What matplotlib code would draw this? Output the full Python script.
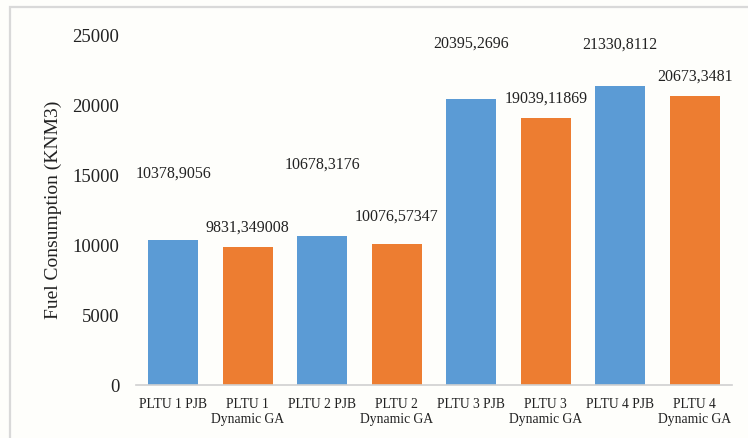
import matplotlib

matplotlib.use("agg")
import matplotlib.pyplot as plt
from matplotlib.patches import Rectangle

categories = [
    "PLTU 1 PJB",
    "PLTU 1\nDynamic GA",
    "PLTU 2 PJB",
    "PLTU 2\nDynamic GA",
    "PLTU 3 PJB",
    "PLTU 3\nDynamic GA",
    "PLTU 4 PJB",
    "PLTU 4\nDynamic GA",
]
values = [10378.9056, 9831.349008, 10678.3176, 10076.57347,
          20395.2696, 19039.11869, 21330.8112, 20673.3481]
value_labels = ["10378,9056", "9831,349008", "10678,3176", "10076,57347",
                "20395,2696", "19039,11869", "21330,8112", "20673,3481"]
yticks = [0, 5000, 10000, 15000, 20000, 25000]

# where the data labels sit above each bar (data units), as in the source
label_gap = [4700, 1380, 5040, 1920, 3960, 1390, 2960, 1330]

BLUE = "#5b9bd5"
ORANGE = "#ed7d31"
colors = [BLUE if i % 2 == 0 else ORANGE for i in range(len(values))]

plt.rcParams["font.family"] = ["Liberation Serif", "DejaVu Serif"]

fig = plt.figure(figsize=(7.48, 4.38), dpi=100, facecolor="#fefefb")
# chart frame, only top/left edges visible in the crop
fig.patches.append(Rectangle((10 / 748, -0.1), 1.2, 1 - 7 / 438 + 0.1,
                             transform=fig.transFigure, fill=False,
                             edgecolor="#d9d9d9", linewidth=1.6))

ax = fig.add_axes([136 / 748, 1 - 385 / 438, 596 / 748, 350 / 438])
ax.set_facecolor("none")

x = range(len(values))
ax.bar(x, values, width=0.67, color=colors)

for i, (v, lab) in enumerate(zip(values, value_labels)):
    ax.text(i, v + label_gap[i], lab, ha="center", va="center", fontsize=11.5,
            color="#222222")

ax.set_xlim(-0.5, len(values) - 0.5)
ax.set_ylim(0, 25000)
ax.set_yticks(yticks)
ax.set_yticklabels([str(t) for t in yticks], fontsize=13.5, color="#222222")
ax.set_xticks(list(x))
ax.set_xticklabels(categories, fontsize=9.8, color="#222222", linespacing=1.25)
ax.tick_params(axis="both", length=0)
ax.tick_params(axis="y", pad=12)
ax.tick_params(axis="x", pad=9)

for s in ["top", "right", "left"]:
    ax.spines[s].set_visible(False)
ax.spines["bottom"].set_color("#d0d0d0")
ax.spines["bottom"].set_linewidth(1.2)

ax.set_ylabel("Fuel Consumption (KNM3)", fontsize=14, color="#222222")
ax.yaxis.set_label_coords(-0.124, 0.5)

fig.savefig("out.png", dpi=100, facecolor=fig.get_facecolor())
